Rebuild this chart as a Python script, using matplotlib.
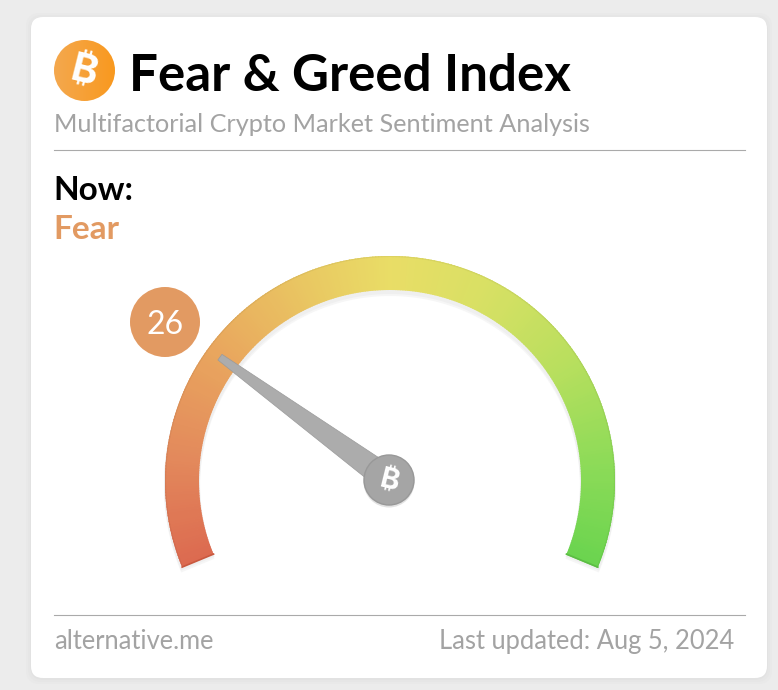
import numpy as np
import matplotlib
matplotlib.use('Agg')
import matplotlib.pyplot as plt
from matplotlib.patches import Circle, FancyBboxPatch, Polygon
from matplotlib.colors import LinearSegmentedColormap

# values
title = 'Fear & Greed Index'
subtitle = 'Multifactorial Crypto Market Sentiment Analysis'
now_label = 'Now:'
state_label = 'Fear'
index_value = 26
source_label = 'alternative.me'
updated_label = 'Last updated: Aug 5, 2024'
gauge_min = 0
gauge_max = 100
gradient_pos = [0.0, 0.13, 0.27, 0.40, 0.50, 0.62, 0.75, 0.88, 1.0]
gradient_colors = ['#dc6a50', '#e38a5c', '#e9a85e', '#e9c862', '#e9dd66',
                   '#d8e064', '#b9df5e', '#8ddb58', '#6bd44f']
btc_fonts = ['Inter', 'Roboto', 'Noto Sans', 'Open Sans', 'Lato', 'DejaVu Sans']

plt.rcParams['font.family'] = ['Lato', 'DejaVu Sans']
W, H = 778, 690
fig = plt.figure(figsize=(W / 100, H / 100), dpi=100, facecolor='#ececec')
ax = fig.add_axes([0, 0, 1, 1])
ax.set_xlim(0, W)
ax.set_ylim(H, 0)
ax.axis('off')

# card
for grow, col in [(5, '#e9e9e9'), (3, '#e6e6e6'), (1, '#e2e2e2')]:
    ax.add_patch(FancyBboxPatch((31 - grow, 17 - grow + 1), 736 + 2 * grow, 661 + 2 * grow,
                                boxstyle='round,pad=0,rounding_size=14', fc=col, ec='none', zorder=1))
ax.add_patch(FancyBboxPatch((31, 17), 736, 661, boxstyle='round,pad=0,rounding_size=12',
                            fc='white', ec='none', zorder=2))

# header
icon = ax.imshow(np.linspace(0, 1, 64)[None, :],
                 cmap=LinearSegmentedColormap.from_list('ic', ['#f4a84e', '#f9991f']),
                 extent=(54, 115, 101, 40), zorder=3, aspect='auto')
icon.set_clip_path(Circle((84.5, 70.5), 30.5, transform=ax.transData))
ax.set_xlim(0, W)
ax.set_ylim(H, 0)
ax.text(84, 73, '\u20bf', color='white', fontsize=29, fontweight='bold', family=btc_fonts,
        rotation=-14, ha='center', va='center', zorder=4)
ax.text(129, 91, title, fontsize=36.8, fontweight='bold', color='black', ha='left', va='baseline', zorder=4)
ax.text(54, 132, subtitle, fontsize=18.2, color='#a3a3a3', ha='left', va='baseline', zorder=4)
ax.plot([54, 745], [149.5, 149.5], color='#aaaaaa', lw=0.8, zorder=3)
ax.text(53, 200, now_label, fontsize=24, fontweight='bold', color='black', ha='left', va='baseline', zorder=4)
ax.text(53, 239, state_label, fontsize=24, fontweight='bold', color='#e29a62', ha='left', va='baseline', zorder=4)

# gauge
cx, cy = 390, 481
r_out, r_in = 225, 191
ang_start, ang_end = 202.5, -22.5


def val_to_ang(v):
    return np.radians(ang_start + (ang_end - ang_start) * (v - gauge_min) / (gauge_max - gauge_min))


def arc_poly(a0, a1, ro, ri, dy=0, n=12):
    a = np.linspace(a0, a1, n)
    xo = cx + ro * np.cos(a)
    yo = cy + dy - ro * np.sin(a)
    xi = cx + ri * np.cos(a[::-1])
    yi = cy + dy - ri * np.sin(a[::-1])
    return np.column_stack([np.r_[xo, xi], np.r_[yo, yi]])


cmap = LinearSegmentedColormap.from_list('gauge', list(zip(gradient_pos, gradient_colors)))
# soft shadow under the arc
for off, col in [(5, '#f6f6f6'), (3, '#efefef')]:
    ax.add_patch(Polygon(arc_poly(val_to_ang(0), val_to_ang(100), r_out + 1, r_in - 1, off, 200),
                         fc=col, ec='none', zorder=3))
steps = np.linspace(0, 100, 301)
for s0, s1 in zip(steps[:-1], steps[1:]):
    t = (s0 + s1) / 200
    ax.add_patch(Polygon(arc_poly(val_to_ang(s0), val_to_ang(s1 + 0.1), r_out, r_in),
                         fc=cmap(t), ec='none', zorder=4))
    # darker rim, only a hint of it
    edge = np.array(cmap(t)[:3]) * 0.95
    ax.add_patch(Polygon(arc_poly(val_to_ang(s0), val_to_ang(s1 + 0.1), r_out, r_out - 1),
                         fc=edge, ec='none', zorder=5))
ax.plot(*arc_poly(val_to_ang(0), val_to_ang(0), r_out, r_in)[[0, -1]].T, color='#c9593f', lw=1.2, zorder=5)
ax.plot(*arc_poly(val_to_ang(100), val_to_ang(100), r_out, r_in)[[0, -1]].T, color='#5cbd44', lw=1.2, zorder=5)

# needle
hub_x, hub_y = 389, 480
a = val_to_ang(index_value)
ux, uy = np.cos(a), -np.sin(a)
px, py = -uy, ux
tip_len, tip_w, base_w = 209, 3.5, 13
needle = [(hub_x + ux * tip_len + px * tip_w, hub_y + uy * tip_len + py * tip_w),
          (hub_x + ux * tip_len - px * tip_w, hub_y + uy * tip_len - py * tip_w),
          (hub_x - px * base_w, hub_y - py * base_w),
          (hub_x + px * base_w, hub_y + py * base_w)]
ax.add_patch(Polygon(needle, fc='#acacac', ec='#9a9a9a', lw=0.5, zorder=6))
ax.add_patch(Circle((hub_x, hub_y + 2), 25.5, fc='#e2e2e2', ec='none', zorder=6))
ax.add_patch(Circle((hub_x, hub_y), 25, fc='#a5a5a5', ec='#989898', lw=1, zorder=7))
ax.text(hub_x, hub_y + 2, '\u20bf', color='white', fontsize=21, fontweight='bold', family=btc_fonts,
        rotation=-14, ha='center', va='center', zorder=8)

# value badge
ax.add_patch(Circle((165, 322), 35, fc='#e29a62', ec='none', zorder=6))
ax.text(165, 322, str(index_value), color='white', fontsize=23, ha='center', va='center_baseline', zorder=7)

# footer
ax.plot([54, 745], [615, 615], color='#aaaaaa', lw=0.8, zorder=3)
ax.text(54, 649, source_label, fontsize=18.4, color='#a3a3a3', ha='left', va='baseline', zorder=4)
ax.text(734, 649, updated_label, fontsize=18.4, color='#a3a3a3', ha='right', va='baseline', zorder=4)

fig.savefig('out.png', dpi=100, facecolor=fig.get_facecolor())
